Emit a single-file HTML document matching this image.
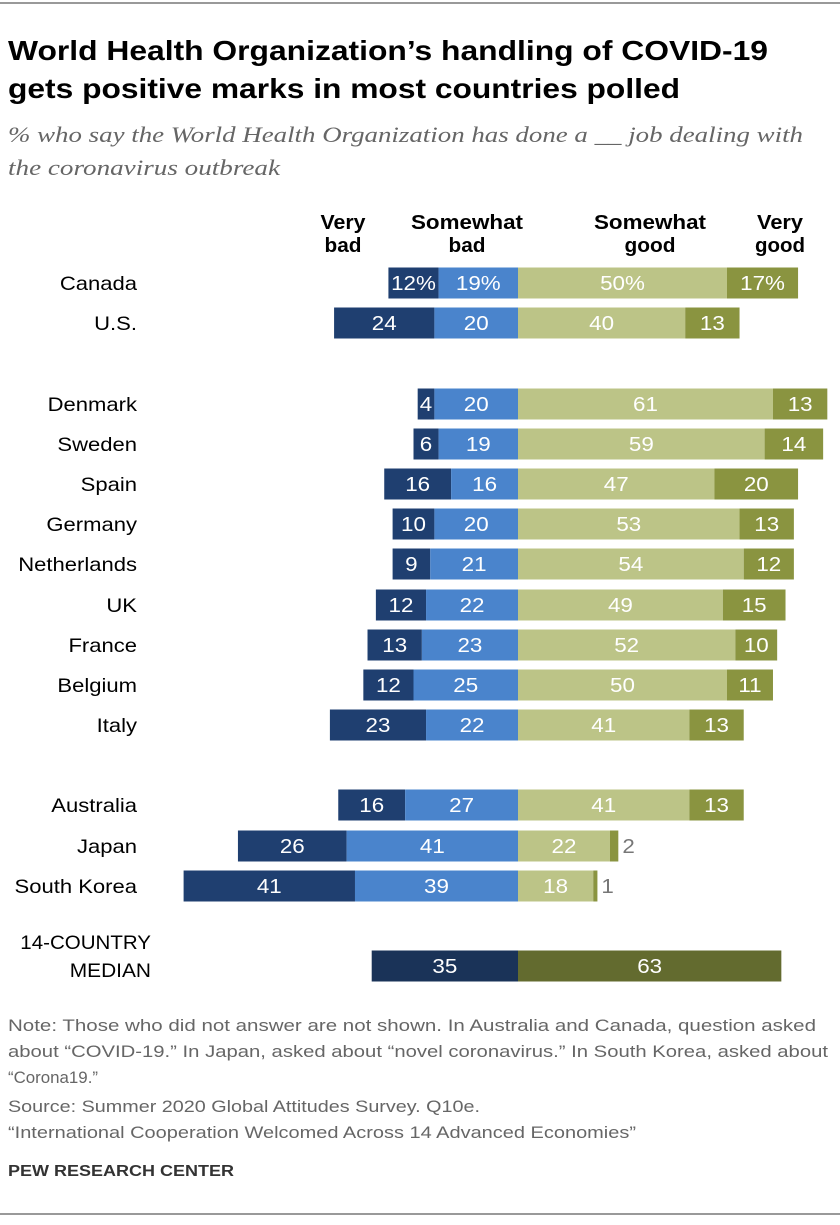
<!DOCTYPE html>
<html><head><meta charset="utf-8"><style>
body{margin:0;background:#fff;width:840px;height:1220px;overflow:hidden;font-family:"Liberation Sans",sans-serif;}
</style></head><body>
<svg width="840" height="1220" xmlns="http://www.w3.org/2000/svg">
<line x1="0" y1="3" x2="840" y2="3" stroke="#333" stroke-width="1"/>
<text x="8" y="60" font-size="28" font-weight="bold" fill="#000" textLength="760" lengthAdjust="spacingAndGlyphs">World Health Organization’s handling of COVID-19</text>
<text x="8" y="98" font-size="28" font-weight="bold" fill="#000" textLength="672" lengthAdjust="spacingAndGlyphs">gets positive marks in most countries polled</text>
<text x="8" y="142" font-size="22" font-style="italic" fill="#666" font-family="Liberation Serif,serif" textLength="795" lengthAdjust="spacingAndGlyphs">% who say the World Health Organization has done a __ job dealing with</text>
<text x="8" y="175" font-size="22" font-style="italic" fill="#666" font-family="Liberation Serif,serif" textLength="272" lengthAdjust="spacingAndGlyphs">the coronavirus outbreak</text>
<g font-size="20" font-weight="bold" text-anchor="middle" fill="#000">
<text><tspan x="343" y="229" textLength="45" lengthAdjust="spacingAndGlyphs">Very</tspan><tspan x="343" y="252" textLength="37" lengthAdjust="spacingAndGlyphs">bad</tspan></text>
<text><tspan x="467" y="229" textLength="112" lengthAdjust="spacingAndGlyphs">Somewhat</tspan><tspan x="467" y="252" textLength="37" lengthAdjust="spacingAndGlyphs">bad</tspan></text>
<text><tspan x="650" y="229" textLength="112" lengthAdjust="spacingAndGlyphs">Somewhat</tspan><tspan x="650" y="252" textLength="51" lengthAdjust="spacingAndGlyphs">good</tspan></text>
<text><tspan x="780" y="229" textLength="46" lengthAdjust="spacingAndGlyphs">Very</tspan><tspan x="780" y="252" textLength="50" lengthAdjust="spacingAndGlyphs">good</tspan></text>
</g>
<g id="bars"></g>
<g font-size="17" fill="#666">
<text x="8" y="1031" textLength="808" lengthAdjust="spacingAndGlyphs">Note: Those who did not answer are not shown. In Australia and Canada, question asked</text>
<text x="8" y="1057" textLength="820" lengthAdjust="spacingAndGlyphs">about “COVID-19.” In Japan, asked about “novel coronavirus.” In South Korea, asked about</text>
<text x="8" y="1083" font-size="17" textLength="90" lengthAdjust="spacingAndGlyphs">“Corona19.”</text>
<text x="8" y="1112" textLength="472" lengthAdjust="spacingAndGlyphs">Source: Summer 2020 Global Attitudes Survey. Q10e.</text>
<text x="8" y="1138" textLength="628" lengthAdjust="spacingAndGlyphs">“International Cooperation Welcomed Across 14 Advanced Economies”</text>
</g>
<text x="8" y="1176" font-size="16" font-weight="bold" fill="#333" textLength="226" lengthAdjust="spacingAndGlyphs">PEW RESEARCH CENTER</text>
<line x1="0" y1="1214" x2="840" y2="1214" stroke="#333" stroke-width="1"/>
</svg>
<script>
const countries=["Canada","U.S.","Denmark","Sweden","Spain","Germany","Netherlands","UK","France","Belgium","Italy","Australia","Japan","South Korea"];
const veryBad=[12,24,4,6,16,10,9,12,13,12,23,16,26,41];
const somewhatBad=[19,20,20,19,16,20,21,22,23,25,22,27,41,39];
const somewhatGood=[50,40,61,59,47,53,54,49,52,50,41,41,22,18];
const veryGood=[17,13,13,14,20,13,12,15,10,11,13,13,2,1];
const rowY=[283,323,404,444,484,524,564,605,645,685,725,805,846,886];
const medianBad=35, medianGood=63;
const zero=518, k=4.18, h=31;
const x=v=>v*k;
const g=document.getElementById('bars');
const NS="http://www.w3.org/2000/svg";
function rect(x0,y,w,fill,name){const r=document.createElementNS(NS,'rect');r.setAttribute('x',x0);r.setAttribute('y',y-h/2);r.setAttribute('width',Math.max(w,0));r.setAttribute('height',h);r.setAttribute('fill',fill);


g.appendChild(r);}
function txt(tx,y,s,fill,anchor,size,name,sx){const t=document.createElementNS(NS,'text');t.setAttribute('y',y+7);t.setAttribute('fill',fill);t.setAttribute('text-anchor',anchor);t.setAttribute('font-size',size);t.textContent=s;
const f=sx||1.12;
t.setAttribute('transform','translate('+tx+' 0) scale('+f+' 1)');t.setAttribute('x',0);


g.appendChild(t);}
countries.forEach((c,i)=>{const y=rowY[i];const pct=i===0?'%':'';
const sb=x(somewhatBad[i]),vb=x(veryBad[i]),sg=x(somewhatGood[i]),vg=x(veryGood[i]);
rect(zero-sb-vb,y,vb,'#1f3f70','bar-very-bad');
rect(zero-sb,y,sb,'#4a84cc','bar-somewhat-bad');
rect(zero,y,sg,'#bcc487','bar-somewhat-good');
rect(zero+sg,y,vg,'#8a9440','bar-very-good');
txt(137,y,c,'#000','end',19,'country-label',1.16);
txt(zero-sb-vb/2,y,veryBad[i]+pct,'#fff','middle',20,'value-very-bad');
txt(zero-sb/2,y,somewhatBad[i]+pct,'#fff','middle',20,'value-somewhat-bad');
txt(zero+sg/2,y,somewhatGood[i]+pct,'#fff','middle',20,'value-somewhat-good');
if(veryGood[i]>=5) txt(zero+sg+vg/2,y,veryGood[i]+pct,'#fff','middle',20,'value-very-good');
else txt(zero+sg+vg+4,y,veryGood[i]+pct,'#777','start',20,'value-very-good');
});
const my=966;
rect(zero-x(medianBad),my,x(medianBad),'#1a3358','bar-median-bad');
rect(zero,my,x(medianGood),'#636b2f','bar-median-good');
txt(zero-x(medianBad)/2,my,medianBad,'#fff','middle',20,'value-median-bad');
txt(zero+x(medianGood)/2,my,medianGood,'#fff','middle',20,'value-median-good');
txt(151,my-24,'14-COUNTRY','#000','end',19,'median-label-line-1',1.08);
txt(151,my+4,'MEDIAN','#000','end',19,'median-label-line-2',1.1);
</script>
</body></html>
